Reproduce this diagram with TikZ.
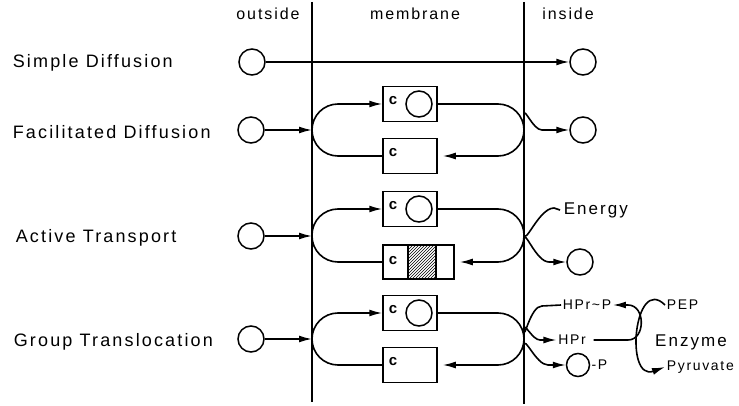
\documentclass[tikz,border=0pt]{standalone}
\usepackage{fontspec}
\setmainfont{Liberation Sans}[LetterSpace=12]
\usetikzlibrary{arrows.meta,patterns}
\tikzset{
  mol/.style={circle,draw,line width=1.5pt,minimum size=26pt,inner sep=0pt},
  cbox/.style={draw,line width=1.5pt,minimum width=54pt,minimum height=35pt,inner sep=0pt},
  hatchbox/.style={draw,line width=1.5pt,minimum width=28pt,minimum height=34pt,inner sep=0pt,pattern=north east lines},
  ctext/.style={font=\fontsize{15}{15}\selectfont\bfseries,inner sep=0pt},
  lab/.style={font=\fontsize{18}{20}\selectfont,anchor=west,inner sep=0pt},
  toplab/.style={font=\fontsize{16}{18}\selectfont,inner sep=0pt},
  midlab/.style={font=\fontsize{17}{19}\selectfont,inner sep=0pt},
  small/.style={font=\fontsize{14}{16}\selectfont,inner sep=1pt},
  arr/.style={-{Latex[length=13pt,width=7pt]}},
  loop/.style={rounded corners=26pt}
}
\begin{document}
\begin{tikzpicture}[x=1pt,y=-1pt,line width=1.6pt]
\useasboundingbox (0,0) rectangle (739,406);
% membrane lines
\coordinate (mLt) at (312,2);
\coordinate (mLb) at (312,402);
\coordinate (mRt) at (524,2);
\coordinate (mRb) at (524,404);
\draw[line width=1.2pt] (mLt) -- (mLb);
\draw[line width=1.2pt] (mRt) -- (mRb);
% top labels
\node[toplab] (tout) at (268,14) {outside};
\node[toplab] (tmem) at (415,14) {membrane};
\node[toplab] (tin) at (568,14) {inside};
% left labels
\node[lab] (l1) at (12,63) {Simple Diffusion};
\node[lab] (l2) at (12,132) {Facilitated Diffusion};
\node[lab] (l3) at (15,238) {Active Transport};
\node[lab] (l4) at (13,342) {Group Translocation};

% simple diffusion
\node[mol] (sdo) at (252,62) {};
\node[mol] (sdi) at (583,62) {};
\draw[arr] (sdo) -- (sdi);

% facilitated diffusion
\node[mol] (fdo) at (251,130) {};
\coordinate (fdL) at (312,130);
\coordinate (fdR) at (524,130);
\coordinate (fdRr) at (524,115);
\coordinate (fdRm) at (542,130);
\node[cbox] (fdA) at (410,104) {};
\node[ctext] (fdAc) at (393,101) {c};
\node[mol] (fdAm) at (419,104) {};
\node[cbox] (fdB) at (410,156) {};
\node[ctext] (fdBc) at (393,153) {c};
\node[mol] (fdi) at (583,130) {};
\draw[arr] (fdo) -- (fdL);
\draw[arr,loop] (fdL) |- (fdA.west);
\draw[loop] (fdA.east) -| (fdR);
\draw[arr,loop,shorten >=5pt] (fdR) |- (fdB.east);
\draw[loop] (fdB.west) -| (fdL);
\draw[arr] (fdRr) to[out=90,in=180] (fdRm) -- (fdi.west);

% active transport
\node[mol] (ato) at (251,236) {};
\coordinate (atL) at (312,236);
\coordinate (atR) at (524,236);
\coordinate (atRe) at (524,233);
\coordinate (atRm) at (554,208);
\coordinate (atRr) at (524,240);
\coordinate (atRn) at (549,262);
\node[cbox] (atA) at (410,209) {};
\node[ctext] (atAc) at (393,206) {c};
\node[mol] (atAm) at (419,209) {};
\node[cbox,minimum width=71pt,minimum height=34pt] (atB) at (418.5,262) {};
\node[hatchbox] (atBh) at (422,262) {};
\node[ctext] (atBc) at (393,261) {c};
\node[midlab,anchor=west,inner sep=3pt] (en) at (560,210) {Energy};
\node[mol] (ati) at (580,262) {};
\draw[arr] (ato) -- (atL);
\draw[arr,loop] (atL) |- (atA.west);
\draw[loop] (atA.east) -| (atR);
\draw[arr,loop,shorten >=5pt] (atR) |- (atB.east);
\draw[loop] (atB.west) -| (atL);
\draw (atRe) to[out=-90,in=180] (atRm) -- (en.west);
\draw[arr] (atRr) to[out=90,in=180] (atRn) -- (ati.west);

% group translocation
\node[mol] (gto) at (251,339) {};
\coordinate (gtL) at (312,339);
\coordinate (gtR) at (524,339);
\coordinate (gtRa) at (524,330);
\coordinate (gtRam) at (542,306);
\coordinate (gtRb) at (524,329);
\coordinate (gtRbm) at (540,340);
\coordinate (gtRc) at (524,346);
\coordinate (gtRcm) at (548,365);
\node[cbox] (gtA) at (410,313) {};
\node[ctext] (gtAc) at (393,310) {c};
\node[mol] (gtAm) at (419,313) {};
\node[cbox] (gtB) at (410,365) {};
\node[ctext] (gtBc) at (393,362) {c};
\draw[arr] (gto) -- (gtL);
\draw[arr,loop] (gtL) |- (gtA.west);
\draw[loop] (gtA.east) -| (gtR);
\draw[arr,loop,shorten >=5pt] (gtR) |- (gtB.east);
\draw[loop] (gtB.west) -| (gtL);

\node[small] (hpp) at (587,305) {HPr\textasciitilde P};
\node[small] (hpr) at (572,340) {HPr};
\node[mol,minimum size=23pt] (gti) at (578,365) {};
\node[small,anchor=west,inner sep=0.5pt] (mp) at (gti.east) {-P};
\draw (gtRa) to[out=-90,in=180] (gtRam) -- (hpp.west);
\draw[arr] (gtRb) to[out=90,in=180] (gtRbm) -- (hpr.west);
\draw[arr] (gtRc) to[out=90,in=180] (gtRcm) -- (gti.west);

\coordinate (hpE) at (628,340);
\coordinate (hppE) at (628,305);
\draw[arr,shorten <=6pt] (hpr.east) -- (hpE) to[out=0,in=0,looseness=1.3] (hppE) -- (hpp.east);

\node[small,anchor=west] (pep) at (665,305) {PEP};
\node[small,anchor=west] (pyr) at (665,367) {Pyruvate};
\node[midlab] (enz) at (691,342) {Enzyme};
\draw[arr] (pep.west) to[out=135,in=200,looseness=1.8] (pyr.west);
\end{tikzpicture}
\end{document}
